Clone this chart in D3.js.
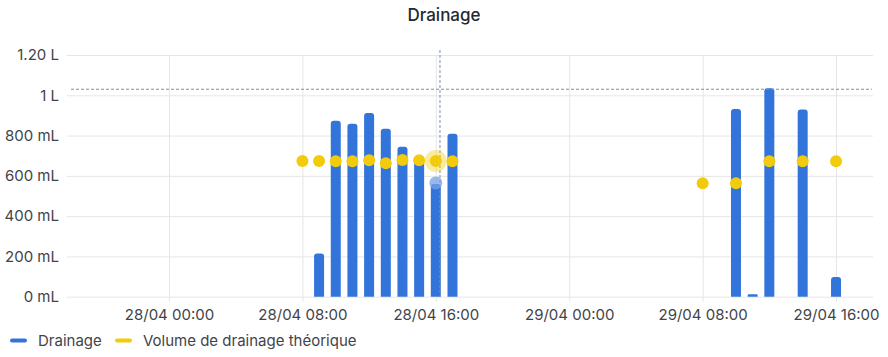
<!DOCTYPE html>
<html><head><meta charset="utf-8">
<script src="https://cdn.jsdelivr.net/npm/d3@7"></script>
<style>
html,body{margin:0;padding:0;background:#fff;}
svg{display:block;font-family:Inter, "Noto Sans", sans-serif;}
</style></head>
<body><svg id="c" width="888" height="357"></svg>
<script>
// ---- data ----
const title = "Drainage";
const drainageTimes = ["28/04 09:00","28/04 10:00","28/04 11:00","28/04 12:00","28/04 13:00","28/04 14:00","28/04 15:00","28/04 16:00","28/04 17:00","29/04 10:00","29/04 11:00","29/04 12:00","29/04 14:00","29/04 16:00"];
const drainageValues = [215, 874, 859, 912, 834, 744, 680, 560, 809, 932, 12, 1035, 930, 98];
const theoTimes = ["28/04 08:00","28/04 09:00","28/04 10:00","28/04 11:00","28/04 12:00","28/04 13:00","28/04 14:00","28/04 15:00","28/04 16:00","28/04 17:00","29/04 08:00","29/04 10:00","29/04 12:00","29/04 14:00","29/04 16:00"];
const theoValues = [674, 674, 672, 672, 677, 662, 679, 677, 674, 672, 563, 563, 672, 672, 672];
const xTicks = ["28/04 00:00","28/04 08:00","28/04 16:00","29/04 00:00","29/04 08:00","29/04 16:00"];
const xDomain = ["27/04 17:53","29/04 18:13"];
const yTicks = [0, 200, 400, 600, 800, 1000, 1200];
const yTickLabels = ["0 mL","200 mL","400 mL","600 mL","800 mL","1 L","1.20 L"];
const legendLabels = ["Drainage","Volume de drainage théorique"];
const hoverTime = "28/04 16:00";
const cursorTime = "28/04 16:15";
const cursorValue = 1030;

// ---- style ----
const blue = "#3274D9", yellow = "#F2CC0C";
const grid = "#e6e6e6", textCol = "#3f444a";
const parse = d3.timeParse("%d/%m %H:%M");
const svg = d3.select("#c");
const L = 67, R = 873, T = 55, B = 296.7;
const fs = 15;

const x = d3.scaleTime().domain(xDomain.map(parse)).range([L, R]);
const y = d3.scaleLinear().domain([0, 1200]).range([B, T]);

// title
svg.append("text").attr("x", 444).attr("y", 20.5).attr("text-anchor","middle")
  .attr("font-size", 17).attr("font-weight", 500).attr("fill", "#24292e").text(title);

// horizontal grid
const yAxis = d3.axisLeft(y).tickValues(yTicks).tickSize(-(R - L)).tickPadding(8)
  .tickFormat((d,i) => yTickLabels[i]);
const gy = svg.append("g").attr("transform", `translate(${L},0)`).call(yAxis);
gy.select(".domain").remove();
gy.selectAll("line").attr("stroke", grid);
gy.selectAll("text").attr("font-size", fs).attr("fill", textCol).attr("font-family","Inter").attr("x", -8);

// vertical grid + x labels
const xAxis = d3.axisBottom(x).tickValues(xTicks.map(parse)).tickSize(-(B - T)).tickPadding(0)
  .tickFormat(d3.timeFormat("%d/%m %H:%M"));
const gx = svg.append("g").attr("transform", `translate(0,${B + 5})`).call(xAxis);
gx.select(".domain").remove();
gx.selectAll("line").attr("stroke", grid).attr("y1", 0).attr("y2", -(B + 5 - T));
gx.selectAll("text").attr("font-size", fs).attr("fill", textCol).attr("font-family","Inter").attr("y", 18.5).attr("dy", 0);

// bars
const bw = 10, rr = 3;
const barPath = (t, v) => {
  const cx = x(parse(t)), x0 = cx - bw/2, x1 = cx + bw/2, y0 = B, y1 = y(v);
  const r = Math.min(rr, (y0 - y1)/2);
  return `M${x0},${y0}V${y1+r}Q${x0},${y1} ${x0+r},${y1}H${x1-r}Q${x1},${y1} ${x1},${y1+r}V${y0}Z`;
};
svg.append("g").selectAll("path").data(drainageValues).join("path")
  .attr("d", (v,i) => barPath(drainageTimes[i], v)).attr("fill", blue);

// crosshair
svg.append("line").attr("x1", x(parse(cursorTime))).attr("x2", x(parse(cursorTime)))
  .attr("y1", 50).attr("y2", B).attr("stroke", "#7890a8").attr("stroke-dasharray","3,2").attr("stroke-width",1);
svg.append("line").attr("x1", L + 4).attr("x2", R - 1).attr("y1", y(cursorValue)).attr("y2", y(cursorValue))
  .attr("stroke", "#7890a8").attr("stroke-dasharray","3,2").attr("stroke-width",1);

// hover highlights
const hi = drainageTimes.indexOf(hoverTime);
svg.append("circle").attr("cx", x(parse(hoverTime))).attr("cy", y(drainageValues[hi]) - 1).attr("r", 6.5)
  .attr("fill", "rgba(120,160,230,0.75)");
const ti = theoTimes.indexOf(hoverTime);
svg.append("circle").attr("cx", x(parse(hoverTime))).attr("cy", y(theoValues[ti])).attr("r", 11)
  .attr("fill", "rgba(242,204,12,0.4)");

// points
svg.append("g").selectAll("circle").data(theoValues).join("circle")
  .attr("cx", (v,i) => x(parse(theoTimes[i]))).attr("cy", v => y(v)).attr("r", 6).attr("fill", yellow);

// legend
const lg = svg.append("g");
const items = [{c: blue, t: legendLabels[0], x: 10}, {c: yellow, t: legendLabels[1], x: 115}];
items.forEach(it => {
  lg.append("rect").attr("x", it.x).attr("y", 338.5).attr("width", 17).attr("height", 4).attr("rx", 2).attr("fill", it.c);
  lg.append("text").attr("x", it.x + 28).attr("y", 346).attr("font-size", fs).attr("fill", textCol).text(it.t);
});
</script></body></html>
